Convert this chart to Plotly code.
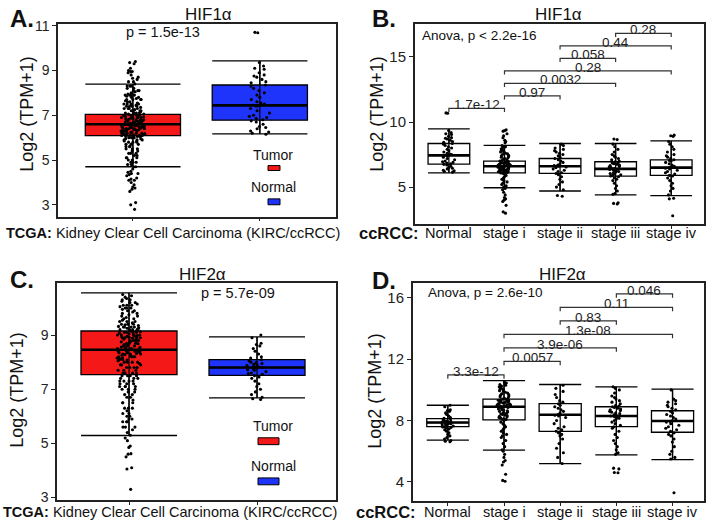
import plotly.graph_objects as go

W, H = 709, 527

# ------------------------------------------------------------------ data
tcga_groups = ["Tumor", "Normal"]
stages = ["Normal", "stage i", "stage ii", "stage iii", "stage iv"]

# HIF1a expression, log2(TPM+1)
hif1_normal = [10.7, 10.68, 9.35, 9.2, 9.1, 9.05, 8.9, 8.8, 8.75, 8.7, 8.6, 8.5, 8.45,
               8.35, 8.3, 8.2, 8.1, 8.0, 7.9, 7.8, 7.7, 7.6, 7.55, 7.5, 7.45, 7.4, 7.3,
               7.2, 7.1, 7.0, 6.95, 6.9, 6.85, 6.8, 6.75, 6.7, 6.6, 6.5, 6.45, 6.4, 6.3,
               6.25, 6.2, 6.15]
hif1_stage_i = [9.4, 9.35, 9.3, 9.1, 8.95, 8.8, 8.6, 8.5, 8.4,
                8.2, 8.1, 8.05, 7.95, 7.9, 7.85, 7.8, 7.75, 7.7, 7.65, 7.6, 7.55, 7.5,
                7.45, 7.4, 7.35, 7.3, 7.25, 7.2, 7.15, 7.1, 7.05,
                7.0, 6.98, 6.95, 6.92, 6.9, 6.88, 6.85, 6.82, 6.8, 6.78, 6.75, 6.73,
                6.7, 6.68, 6.66, 6.64, 6.62, 6.6, 6.6, 6.58, 6.56, 6.55,
                6.53, 6.5, 6.48, 6.45, 6.42, 6.4, 6.38, 6.35, 6.32, 6.3, 6.28, 6.25,
                6.22, 6.2, 6.18, 6.16, 6.14, 6.12, 6.1, 6.1, 6.08, 6.05,
                6.0, 5.9, 5.8, 5.7, 5.6, 5.5, 5.4, 5.3, 5.2, 5.1, 5.0, 4.9, 4.8, 4.6,
                4.4, 4.2, 4.1, 4.0, 3.9, 3.6, 3.1, 3.0]
hif1_stage_ii = [8.3, 8.2, 8.0, 7.9, 7.8, 7.7, 7.6, 7.5, 7.4, 7.3, 7.2, 7.1, 7.0, 6.9,
                 6.8, 6.7, 6.65, 6.6, 6.55, 6.5, 6.4, 6.3, 6.2, 6.1, 6.05, 5.95, 5.8,
                 5.6, 5.4, 5.2, 5.0, 4.8, 4.35, 4.3]
hif1_stage_iii = [8.7, 8.65, 8.3, 8.1, 7.9, 7.7, 7.5, 7.4, 7.3, 7.2, 7.1, 7.0, 6.95,
                  6.9, 6.85, 6.8, 6.75, 6.7, 6.65, 6.6, 6.55, 6.5, 6.45, 6.42, 6.4,
                  6.38, 6.35, 6.3, 6.25, 6.2, 6.15, 6.1, 6.05, 6.0, 5.95, 5.9, 5.85,
                  5.8, 5.7, 5.6, 5.5, 5.3, 5.1, 4.9, 4.7, 4.5, 4.45, 3.8, 3.75, 3.7]
hif1_stage_iv = [9.0, 8.95, 8.9, 8.5, 8.3, 8.1, 7.9, 7.7, 7.5, 7.4, 7.3, 7.2, 7.1,
                 7.05, 7.0, 6.9, 6.8, 6.7, 6.6, 6.55, 6.5, 6.45, 6.4, 6.3, 6.2, 6.1,
                 6.0, 5.9, 5.85, 5.7, 5.5, 5.3, 5.1, 4.9, 4.7, 4.4, 4.15, 4.1, 2.8]
hif1_tumor = hif1_stage_i + hif1_stage_ii + hif1_stage_iii + hif1_stage_iv

# HIF2a expression
hif2_normal = [9.0, 8.9, 8.7, 8.65, 8.6, 8.5, 8.4, 8.3, 8.2, 8.15, 8.1, 8.05, 8.0,
               7.98, 7.95, 7.92, 7.9, 7.88, 7.85, 7.83, 7.8, 7.78, 7.75, 7.72, 7.7,
               7.65, 7.6, 7.58, 7.55, 7.5, 7.45, 7.4, 7.3, 7.2, 7.1, 7.0, 6.9, 6.8,
               6.7, 6.65, 6.62]
hif2_stage_i = [10.5, 10.45, 10.4, 10.35, 10.3, 10.25, 10.2, 10.15, 10.1, 10.05, 10.0,
                9.95, 9.9, 9.85, 9.8, 9.75, 9.7, 9.65, 9.6, 9.55, 9.5, 9.45,
                9.4, 9.38, 9.35, 9.32, 9.3, 9.27, 9.25, 9.22, 9.2, 9.18, 9.15, 9.12,
                9.1, 9.08, 9.05, 9.02, 9.0, 8.98, 8.96, 8.94, 8.92, 8.9,
                8.88, 8.85, 8.8, 8.76, 8.72, 8.68, 8.64, 8.6, 8.56, 8.52, 8.48, 8.44,
                8.4, 8.36, 8.32, 8.28, 8.24, 8.2, 8.16, 8.12, 8.08, 8.05,
                8.0, 7.9, 7.8, 7.7, 7.6, 7.5, 7.4, 7.3, 7.2, 7.1, 7.0, 6.9, 6.7, 6.5,
                6.3, 6.1, 6.0, 5.8, 5.6, 5.4, 5.3, 5.1, 4.5, 4.1, 4.05]
hif2_stage_ii = [10.3, 10.1, 9.9, 9.7, 9.5, 9.3, 9.2, 9.1, 9.0, 8.9, 8.8, 8.7, 8.6,
                 8.5, 8.4, 8.35, 8.3, 8.2, 8.0, 7.8, 7.6, 7.5, 7.4, 7.3, 7.2, 7.1,
                 7.0, 6.8, 6.5, 6.2, 5.9, 5.6, 5.2]
hif2_stage_iii = [10.2, 10.1, 10.0, 9.8, 9.6, 9.5, 9.4, 9.3, 9.2, 9.1, 9.0, 8.95, 8.9,
                  8.85, 8.8, 8.75, 8.7, 8.65, 8.6, 8.55, 8.5, 8.45, 8.4, 8.35, 8.3,
                  8.25, 8.2, 8.15, 8.1, 8.0, 7.9, 7.8, 7.7, 7.6, 7.5, 7.3, 7.1, 6.9,
                  6.7, 6.5, 6.3, 6.1, 5.9, 5.8, 4.9, 4.85, 4.6, 4.62]
hif2_stage_iv = [10.0, 9.4, 9.3, 9.2, 9.1, 9.0, 8.9, 8.8, 8.7, 8.6, 8.5, 8.4, 8.3,
                 8.2, 8.1, 8.0, 7.95, 7.9, 7.8, 7.7, 7.6, 7.5, 7.4, 7.3, 7.2, 7.1,
                 7.0, 6.8, 6.6, 6.3, 6.0, 5.8, 5.6, 5.5, 3.3]
hif2_tumor = hif2_stage_i + hif2_stage_ii + hif2_stage_iii + hif2_stage_iv

# box statistics: q1, median, q3, lower / upper whisker
hif1_tcga_q1 = [6.09, 6.78]
hif1_tcga_med = [6.60, 7.44]
hif1_tcga_q3 = [7.04, 8.35]
hif1_tcga_lo = [4.70, 6.17]
hif1_tcga_hi = [8.39, 9.43]

hif1_stage_q1 = [6.77, 6.10, 6.05, 5.85, 5.90]
hif1_stage_med = [7.44, 6.60, 6.60, 6.40, 6.50]
hif1_stage_q3 = [8.35, 7.00, 7.20, 6.95, 7.10]
hif1_stage_lo = [6.10, 4.95, 4.70, 4.40, 4.35]
hif1_stage_hi = [9.47, 8.20, 8.35, 8.35, 8.55]

hif2_tcga_q1 = [7.54, 7.51]
hif2_tcga_med = [8.46, 7.80]
hif2_tcga_q3 = [9.15, 8.09]
hif2_tcga_lo = [5.29, 6.68]
hif2_tcga_hi = [10.56, 8.93]

hif2_stage_q1 = [7.60, 8.05, 7.30, 7.60, 7.24]
hif2_stage_med = [7.87, 8.90, 8.38, 8.30, 7.97]
hif2_stage_q3 = [8.13, 9.40, 9.10, 8.90, 8.64]
hif2_stage_lo = [6.73, 6.08, 5.20, 5.77, 5.45]
hif2_stage_hi = [9.00, 10.60, 10.35, 10.20, 10.05]

# pairwise comparisons and p-values
comparisons = [("Normal", "stage i"), ("stage i", "stage ii"), ("stage i", "stage iii"),
               ("stage i", "stage iv"), ("stage ii", "stage iii"), ("stage ii", "stage iv"),
               ("stage iii", "stage iv")]
hif1_pvals = ["1.7e-12", "0.97", "0.0032", "0.28", "0.058", "0.44", "0.28"]
hif2_pvals = ["3.3e-12", "0.0057", "3.9e-06", "1.3e-08", "0.83", "0.11", "0.046"]

tcga_p = {"hif1": "p = 1.5e-13", "hif2": "p = 5.7e-09"}
anova_p = {"hif1": "Anova, p < 2.2e-16", "hif2": "Anova, p = 2.6e-10"}

# ------------------------------------------------------------------ style
FONT = "Liberation Sans, Arial, Helvetica, sans-serif"
RED = "rgb(245,24,24)"
BLUE = "rgb(30,52,250)"
BOXW = 0.75


def px(x):
    return x / W


def py(y):
    return 1 - y / H


fig = go.Figure()


def add_panel(xa, ya, cats, groups, q1, med, q3, lo, hi, fills, jitter, lw):
    xref = "x" if xa == 1 else f"x{xa}"
    yref = "y" if ya == 1 else f"y{ya}"
    # boxes
    for i, c in enumerate(cats):
        fig.add_trace(go.Box(x=[c], q1=[q1[i]], median=[med[i]], q3=[q3[i]],
                             lowerfence=[lo[i]], upperfence=[hi[i]], boxpoints=False,
                             width=BOXW, whiskerwidth=1, fillcolor=fills[i],
                             line=dict(color="black", width=lw), xaxis=xref, yaxis=yref,
                             hoverinfo="skip", showlegend=False))
    # thicker median line
    fig.add_trace(go.Box(x=cats, q1=med, median=med, q3=med, lowerfence=med, upperfence=med,
                         boxpoints=False, width=BOXW, whiskerwidth=0,
                         fillcolor="rgba(0,0,0,0)", line=dict(color="black", width=2.6),
                         xaxis=xref, yaxis=yref, hoverinfo="skip", showlegend=False))
    # jittered samples
    for c, vals in zip(cats, groups):
        fig.add_trace(go.Box(x=[c] * len(vals), y=vals, boxpoints="all", jitter=jitter,
                             pointpos=0, width=BOXW, fillcolor="rgba(0,0,0,0)",
                             line=dict(color="rgba(0,0,0,0)", width=0),
                             marker=dict(color="black", size=3.1),
                             xaxis=xref, yaxis=yref, hoverinfo="skip", showlegend=False))
    # whisker line through the box (errorbar style)
    vx, vy = [], []
    for i, c in enumerate(cats):
        vx += [c, c, None]
        vy += [lo[i], hi[i], None]
    fig.add_trace(go.Scatter(x=vx, y=vy, mode="lines", line=dict(color="black", width=1.2),
                             xaxis=xref, yaxis=yref, hoverinfo="skip", showlegend=False))


def add_brackets(xa, ya, pvals, base, step, drop):
    xref = f"x{xa}"
    yref = f"y{ya}"
    bx, by = [], []
    for k, ((a, b), p) in enumerate(zip(comparisons, pvals)):
        h = base + step * k
        bx += [a, a, b, b, None]
        by += [h - drop, h, h, h - drop, None]
        mid = (stages.index(a) + stages.index(b)) / 2
        fig.add_annotation(x=mid, y=h, xref=xref, yref=yref, text=p, showarrow=False,
                           yanchor="bottom", yshift=-5, borderpad=0,
                           font=dict(size=13.5, color="#222", family=FONT))
    fig.add_trace(go.Scatter(x=bx, y=by, mode="lines", line=dict(color="#333", width=1.2),
                             xaxis=xref, yaxis=yref, hoverinfo="skip", showlegend=False))


def add_cat_labels(xa, ylab):
    xref = f"x{xa}"
    for k, c in enumerate(stages):
        fig.add_annotation(x=k, y=py(ylab), xref=xref, yref="paper", text=c,
                           showarrow=False, yanchor="middle",
                           font=dict(size=14.5, color="#111", family=FONT))


# Panel A
add_panel(1, 1, tcga_groups, [hif1_tumor, hif1_normal], hif1_tcga_q1, hif1_tcga_med,
          hif1_tcga_q3, hif1_tcga_lo, hif1_tcga_hi, [RED, BLUE], 0.25, 1.3)
# Panel B
add_panel(2, 2, stages, [hif1_normal, hif1_stage_i, hif1_stage_ii, hif1_stage_iii, hif1_stage_iv],
          hif1_stage_q1, hif1_stage_med, hif1_stage_q3, hif1_stage_lo, hif1_stage_hi,
          ["white"] * 5, 0.34, 1.3)
add_brackets(2, 2, hif1_pvals, 11.05, 0.96, 0.28)
add_cat_labels(2, 232)
# Panel C
add_panel(3, 3, tcga_groups, [hif2_tumor, hif2_normal], hif2_tcga_q1, hif2_tcga_med,
          hif2_tcga_q3, hif2_tcga_lo, hif2_tcga_hi, [RED, BLUE], 0.25, 1.3)
# Panel D
add_panel(4, 4, stages, [hif2_normal, hif2_stage_i, hif2_stage_ii, hif2_stage_iii, hif2_stage_iv],
          hif2_stage_q1, hif2_stage_med, hif2_stage_q3, hif2_stage_lo, hif2_stage_hi,
          ["white"] * 5, 0.34, 1.3)
add_brackets(4, 4, hif2_pvals, 10.98, 0.88, 0.25)
add_cat_labels(4, 517)

# ------------------------------------------------------------------ axes


def xaxis(domain, cats, rng, lw):
    return dict(domain=domain, type="category", categoryorder="array", categoryarray=cats,
                range=rng, showline=True, mirror=True, linecolor="#222", linewidth=lw,
                ticks="outside", ticklen=3, tickcolor="#222", showgrid=False, zeroline=False,
                showticklabels=False)


def yaxis(domain, rng, tv, anchor, lw, fs):
    return dict(domain=domain, range=rng, tickvals=tv, showline=True, mirror=True,
                linecolor="#222", linewidth=lw, ticks="outside", ticklen=4, tickcolor="#222",
                showgrid=False, zeroline=False, anchor=anchor,
                tickfont=dict(size=fs, color="#222", family=FONT))


fig.update_layout(
    width=W, height=H, margin=dict(l=0, r=0, t=0, b=0),
    paper_bgcolor="white", plot_bgcolor="white", boxmode="overlay", showlegend=False,
    font=dict(family=FONT, color="#111"),
    xaxis=xaxis([px(58), px(336)], tcga_groups, [-0.59, 1.6], 1.5) | dict(anchor="y"),
    yaxis=yaxis([py(215), py(18)], [2.48, 11.09], [3, 5, 7, 9, 11], "x", 1.5, 14),
    xaxis2=xaxis([px(415), px(704)], stages, [-0.61, 4.59], 2) | dict(anchor="y2"),
    yaxis2=yaxis([py(223), py(18)], [2.14, 17.56], [5, 10, 15], "x2", 2, 15),
    xaxis3=xaxis([px(57), px(336)], tcga_groups, [-0.5625, 1.617], 1.5) | dict(anchor="y3"),
    yaxis3=yaxis([py(505), py(283)], [2.89, 10.92], [3, 5, 7, 9], "x3", 1.5, 14),
    xaxis4=xaxis([px(413), px(704)], stages, [-0.62, 4.56], 2) | dict(anchor="y4"),
    yaxis4=yaxis([py(506), py(283)], [2.73, 16.96], [4, 8, 12, 16], "x4", 2, 15),
)

# ------------------------------------------------------------------ text


def txt(x, y, s, size, bold=False, xanchor="center", angle=0, color="#111"):
    fig.add_annotation(x=px(x), y=py(y), xref="paper", yref="paper", text=s, showarrow=False,
                       xanchor=xanchor, yanchor="middle", textangle=angle,
                       font=dict(size=size, family=FONT, color=color,
                                 weight="bold" if bold else "normal"))


# panel letters
txt(8, 13, "A.", 24, bold=True, xanchor="left")
txt(370, 13, "B.", 24, bold=True, xanchor="left")
txt(8, 279, "C.", 24, bold=True, xanchor="left")
txt(370, 280, "D.", 24, bold=True, xanchor="left")

# titles
txt(208, 9, "HIF1α", 17)
txt(558, 9, "HIF1α", 17)
txt(202, 274, "HIF2α", 17)
txt(562, 274, "HIF2α", 17)

# y-axis titles
txt(27, 110, "Log2 (TPM+1)", 18, angle=-90)
txt(377, 110, "Log2 (TPM+1)", 18, angle=-90)
txt(17, 392, "Log2 (TPM+1)", 18, angle=-90)
txt(375, 393, "Log2 (TPM+1)", 18, angle=-90)

# p-values
txt(163, 27, tcga_p["hif1"], 14.5)
txt(238, 293, tcga_p["hif2"], 14.5)
txt(420, 30, anova_p["hif1"], 13.5, xanchor="left")
txt(426, 293, anova_p["hif2"], 13.5, xanchor="left")

# x captions
cap = "<b>TCGA:</b> Kidney Clear Cell Carcinoma (KIRC/ccRCC)"
fig.add_annotation(x=px(4), y=py(232), xref="paper", yref="paper", text=cap, showarrow=False,
                   xanchor="left", yanchor="middle", font=dict(size=14.5, family=FONT, color="#111"))
fig.add_annotation(x=px(1), y=py(517), xref="paper", yref="paper", text=cap, showarrow=False,
                   xanchor="left", yanchor="middle", font=dict(size=14.5, family=FONT, color="#111"))
txt(421, 232, "ccRCC:", 16.5, bold=True, xanchor="right")
txt(418, 517, "ccRCC:", 16.5, bold=True, xanchor="right")

# in-plot legends
txt(273, 152, "Tumor", 14)
txt(273, 185, "Normal", 14)
txt(273, 429, "Tumor", 14)
txt(273, 470, "Normal", 14)
legend_boxes = [((268, 163, 280, 168), RED), ((268, 197, 280, 203), BLUE),
                ((258, 441, 279, 448), RED), ((258, 482, 279, 489), BLUE)]
for (x0, y0, x1, y1), col in legend_boxes:
    fig.add_shape(type="rect", xref="paper", yref="paper", x0=px(x0), x1=px(x1),
                  y0=py(y1), y1=py(y0), fillcolor=col, line=dict(color="black", width=1))

fig.write_html("out.html", config={"displayModeBar": False},
               post_script="document.body.style.margin='0px';document.body.style.overflow='hidden';")
